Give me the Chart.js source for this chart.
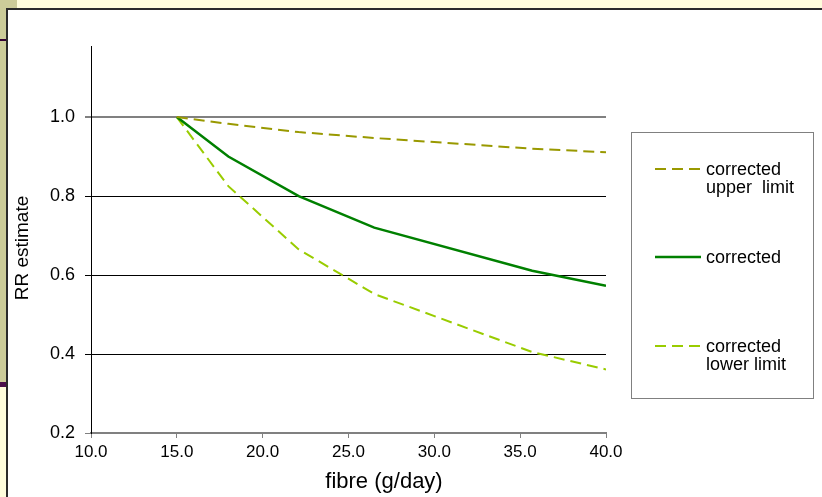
<!DOCTYPE html>
<html>
<head>
<meta charset="utf-8">
<script src="https://cdn.jsdelivr.net/npm/chart.js@4.4.1/dist/chart.umd.min.js"></script>
<style>
  html, body { margin: 0; padding: 0; width: 822px; height: 497px; overflow: hidden; background: #fffddc; }
  #side { position: absolute; left: 0; top: 0; width: 6px; height: 383px; background: #cccc99; }
  #corner { position: absolute; left: 0; top: 0; width: 17px; height: 8px; background: #cccc99; }
  #bar1 { position: absolute; left: 0; top: 39px; width: 6px; height: 2px; background: #330033; }
  #bar2 { position: absolute; left: 0; top: 382px; width: 7px; height: 5px; background: #4b0f4b; }
  #frame { position: absolute; left: 6px; top: 8px; width: 816px; height: 489px; box-sizing: border-box;
           background: #fff; border-top: 2px solid #2b2b2b; border-left: 2px solid #2b2b2b; }
  canvas { position: absolute; left: 0; top: 0; }
</style>
</head>
<body>
<div id="side"></div>
<div id="corner"></div>
<div id="bar1"></div>
<div id="bar2"></div>
<div id="frame"></div>
<canvas id="rrChart" width="822" height="497"></canvas>
<script>
// Set global font settings
Chart.defaults.font.family = "'Liberation Sans', Arial, sans-serif";
Chart.defaults.color = '#000';

// values
const fibre = [15, 18, 22.1, 26.5, 35.7, 40];
const upperLimit = [1.0, 0.983, 0.962, 0.947, 0.920, 0.911];
const corrected = [1.0, 0.90, 0.80, 0.72, 0.611, 0.573];
const lowerLimit = [1.0, 0.825, 0.665, 0.552, 0.405, 0.361];

const xTicks = [10, 15, 20, 25, 30, 35, 40];
const yTicks = [0.2, 0.4, 0.6, 0.8, 1.0];
const seriesNames = [['corrected', 'upper  limit'], ['corrected'], ['corrected', 'lower limit']];
const xTitle = 'fibre (g/day)';
const yTitle = 'RR estimate';

const toPoints = ys => fibre.map((x, i) => ({ x: x, y: ys[i] }));

// legend box + axis titles drawn on the canvas
const extras = {
  id: 'extras',
  afterDraw(chart) {
    const c = chart.ctx;
    c.save();
    c.strokeStyle = '#808080';
    c.lineWidth = 1;
    c.strokeRect(631.5, 132.5, 182, 266);

    const rows = [169, 257, 346];
    chart.data.datasets.forEach((ds, i) => {
      const y = rows[i];
      c.strokeStyle = ds.borderColor;
      c.lineWidth = ds.borderWidth;
      c.setLineDash(ds.borderDash || []);
      c.beginPath();
      c.moveTo(655, y);
      c.lineTo(701, y);
      c.stroke();
      c.setLineDash([]);
      c.fillStyle = '#000';
      c.font = "18px 'Liberation Sans', Arial, sans-serif";
      c.textAlign = 'left';
      c.textBaseline = 'middle';
      seriesNames[i].forEach((t, j) => c.fillText(t, 706, y + 1 + j * 18));
    });

    c.textAlign = 'center';
    c.textBaseline = 'middle';
    c.font = "22px 'Liberation Sans', Arial, sans-serif";
    c.fillText(xTitle, 384, 482);

    c.translate(23, 248);
    c.rotate(-Math.PI / 2);
    c.font = "19px 'Liberation Sans', Arial, sans-serif";
    c.fillText(yTitle, 0, 0);
    c.restore();
  }
};

const ctx = document.getElementById('rrChart').getContext('2d');

new Chart(ctx, {
  type: 'line',
  data: {
    datasets: [{
      label: 'corrected upper limit',
      data: toPoints(upperLimit),
      borderColor: '#999900',
      borderWidth: 2,
      borderDash: [11, 6]
    }, {
      label: 'corrected',
      data: toPoints(corrected),
      borderColor: '#008000',
      borderWidth: 2.5
    }, {
      label: 'corrected lower limit',
      data: toPoints(lowerLimit),
      borderColor: '#99cc00',
      borderWidth: 2,
      borderDash: [11, 6]
    }]
  },
  options: {
    responsive: false,
    animation: false,
    layout: { padding: { left: 0, top: 46, right: 216, bottom: 0 } },
    elements: { point: { radius: 0 }, line: { tension: 0 } },
    plugins: {
      legend: { display: false },
      tooltip: { enabled: false }
    },
    scales: {
      x: {
        type: 'linear',
        min: 10,
        max: 40,
        afterBuildTicks: s => { s.ticks = xTicks.map(v => ({ value: v })); },
        afterFit: s => { s.height = 64; },
        grid: { drawOnChartArea: false, drawTicks: true, tickLength: 5, color: '#808080' },
        border: { color: '#808080', width: 2 },
        ticks: {
          padding: 4,
          maxRotation: 0,
          autoSkip: false,
          font: { size: 17 },
          callback: v => v.toFixed(1)
        }
      },
      y: {
        min: 0.2,
        max: 1.18,
        afterBuildTicks: s => { s.ticks = yTicks.map(v => ({ value: v })); },
        afterFit: s => { s.width = 91; },
        grid: {
          tickLength: 6,
          color: c => (c.tick && (c.tick.value === 1 || c.tick.value === 0.2)) ? '#808080' : '#000',
          lineWidth: c => (c.tick && c.tick.value === 1) ? 2 : 1
        },
        border: { color: '#000', width: 1 },
        ticks: {
          padding: 10,
          font: { size: 18 },
          callback: v => v.toFixed(1)
        }
      }
    }
  },
  plugins: [extras]
});
</script>
</body>
</html>
